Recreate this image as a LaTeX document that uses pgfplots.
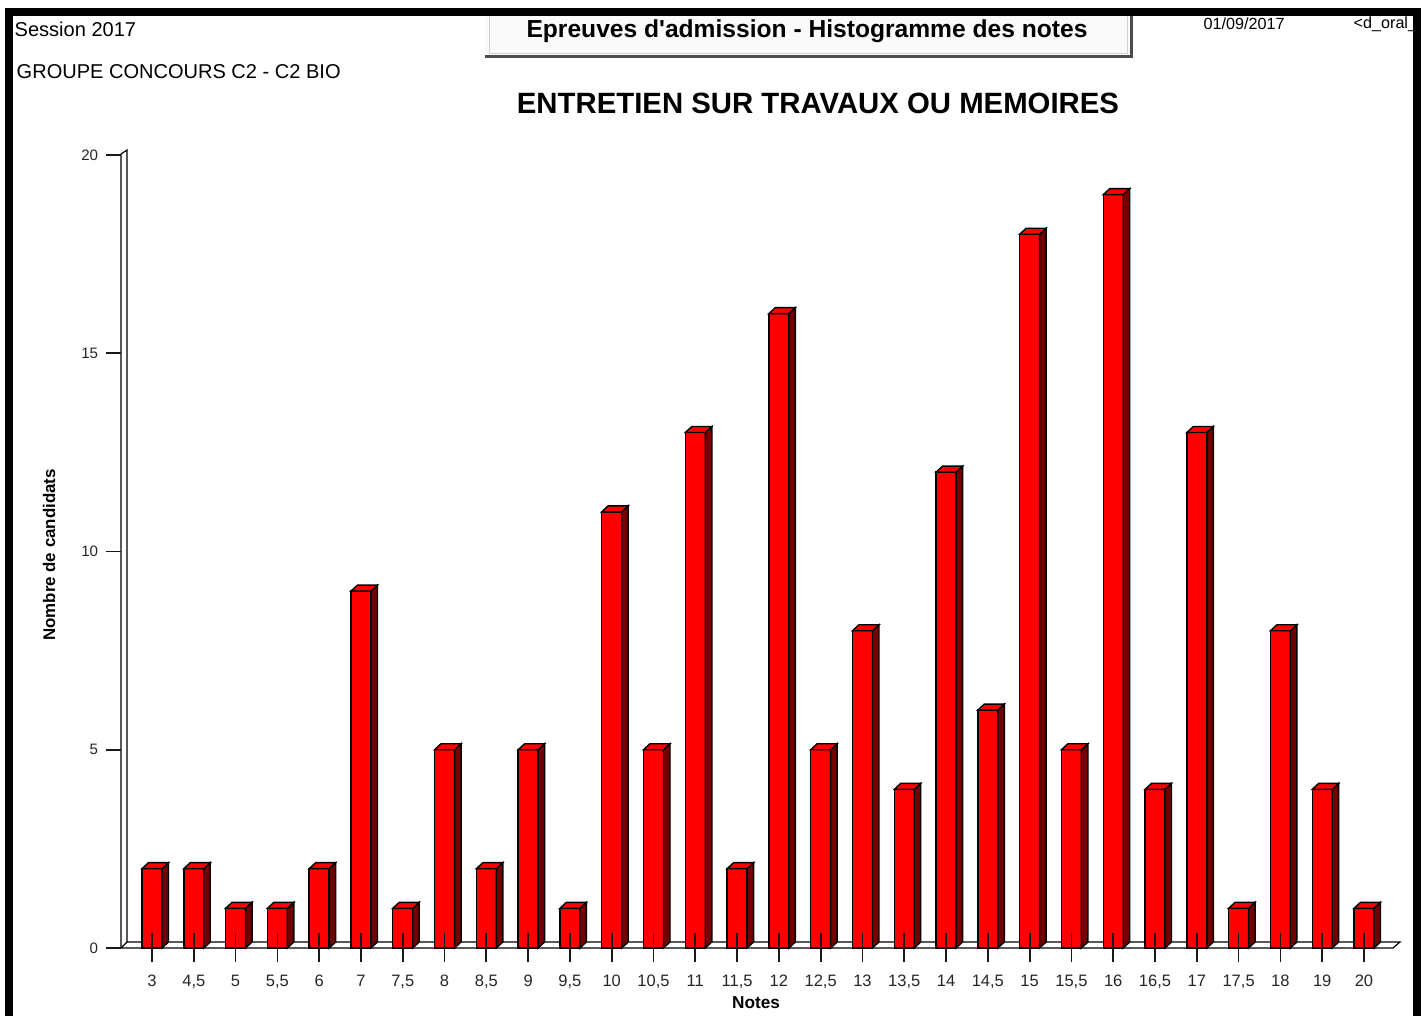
\documentclass[border=0pt]{standalone}
\usepackage{fontspec}
\setmainfont{Liberation Sans}
\usepackage{pgfplots}
\pgfplotsset{compat=1.18}
\usepackage{pgfplotstable}
\definecolor{barred}{RGB}{255,0,0}
\definecolor{sidered}{RGB}{115,0,0}
\pgfplotstableread{
x v
0 2
1 2
2 1
3 1
4 2
5 9
6 1
7 5
8 2
9 5
10 1
11 11
12 5
13 13
14 2
15 16
16 5
17 8
18 4
19 12
20 6
21 18
22 5
23 19
24 4
25 13
26 1
27 8
28 4
29 1
}\notes
\pgfdeclareplotmark{bar3d}{%
 \pgfsetfillcolor{sidered}%
 \pgfpathmoveto{\pgfpoint{1mm}{0mm}}%
 \pgfpathlineto{\pgfpoint{1.65mm}{0.6mm}}%
 \pgfpathlineto{\pgfpoint{1.65mm}{0.6mm-\barh mm}}%
 \pgfpathlineto{\pgfpoint{1mm}{-\barh mm}}%
 \pgfpathclose
 \pgfusepath{fill,stroke}%
 \pgfsetfillcolor{barred}%
 \pgfpathmoveto{\pgfpoint{-1mm}{0mm}}%
 \pgfpathlineto{\pgfpoint{1mm}{0mm}}%
 \pgfpathlineto{\pgfpoint{1.65mm}{0.6mm}}%
 \pgfpathlineto{\pgfpoint{-0.35mm}{0.6mm}}%
 \pgfpathclose
 \pgfusepath{fill,stroke}%
}
\newcommand{\fs}[1]{\fontsize{#1}{#1}\selectfont}
\begin{document}
\begin{tikzpicture}[x=0.1mm,y=0.1mm]
\path[use as bounding box] (0,0) rectangle (1427,1016);
% header
\node[anchor=west,inner sep=0] at (14,987) {\fs{5.7pt}Session 2017};
\node[anchor=west,inner sep=0] at (16,944) {\fs{5.7pt}GROUPE CONCOURS C2 - C2 BIO};
\fill[gray!4] (485,959) rectangle (1131,1001);
\draw[gray!35, line width=0.1mm] (489,962) rectangle (1127,1001);
\draw[gray!60!black, line width=0.3mm] (485,959)--(1131,959)--(1131,1001);
\node[inner sep=0] at (807,985) {\fs{7pt}\bfseries Epreuves d\textquotesingle admission - Histogramme des notes};
\node[anchor=west,inner sep=0] at (1203,992) {\fs{4.6pt}01/09/2017};
\node[anchor=west,inner sep=0] at (1353,992) {\fs{4.6pt}<d\_oral\_};
\node[inner sep=0] at (818,913) {\fs{8.35pt}\bfseries ENTRETIEN SUR TRAVAUX OU MEMOIRES};
\node[inner sep=0,rotate=90] at (49,461) {\fs{4.8pt}\bfseries Nombre de candidats};
\node[inner sep=0] at (756,13) {\fs{4.9pt}\bfseries Notes};
% frame
\draw[black, line width=0.8mm] (9,0)--(9,1004)--(1416.5,1004)--(1416.5,0);
% 3D floor and wall
\draw[black, line width=0.12mm, fill=white] (121,68)--(1393,68)--(1400,74)--(127,74)--cycle;
\draw[black, line width=0.12mm] (121,68)--(121,862)--(127,866)--(127,74);
\begin{axis}[
  at={(12.1mm,6.8mm)}, anchor=south west,
  scale only axis, width=127.2mm, height=79.3mm,
  xmin=-0.742, xmax=29.694, ymin=0, ymax=20,
  clip=false, axis on top,
  axis lines*=left, axis line style={draw=none},
  tick align=center, major tick length=2.9mm,
  tick style={black!90, line width=0.17mm},
  y tick style={dash pattern=on 1.45mm off 5mm},
  xtick={0,...,29},
  xticklabels={3,{4,5},5,{5,5},6,7,{7,5},8,{8,5},9,{9,5},10,{10,5},11,{11,5},12,{12,5},13,{13,5},14,{14,5},15,{15,5},16,{16,5},17,{17,5},18,19,20},
  ytick={0,5,10,15,20},
  yticklabels={0,5,10,15,20},
  xticklabel style={font=\fs{4.7pt}, text=black!85},
  yticklabel style={font=\fs{4.3pt}, text=black!85, xshift=0.4mm},
]
\addplot[ybar, bar width=2mm, bar shift=0pt, fill=barred, draw=black, line width=0.14mm] table[x=x,y=v]{\notes};
\addplot[only marks, mark=bar3d, color=black, line width=0.14mm,
  visualization depends on={3.965*\thisrow{v} \as \barh}] table[x=x,y=v]{\notes};
\end{axis}
\end{tikzpicture}
\end{document}
